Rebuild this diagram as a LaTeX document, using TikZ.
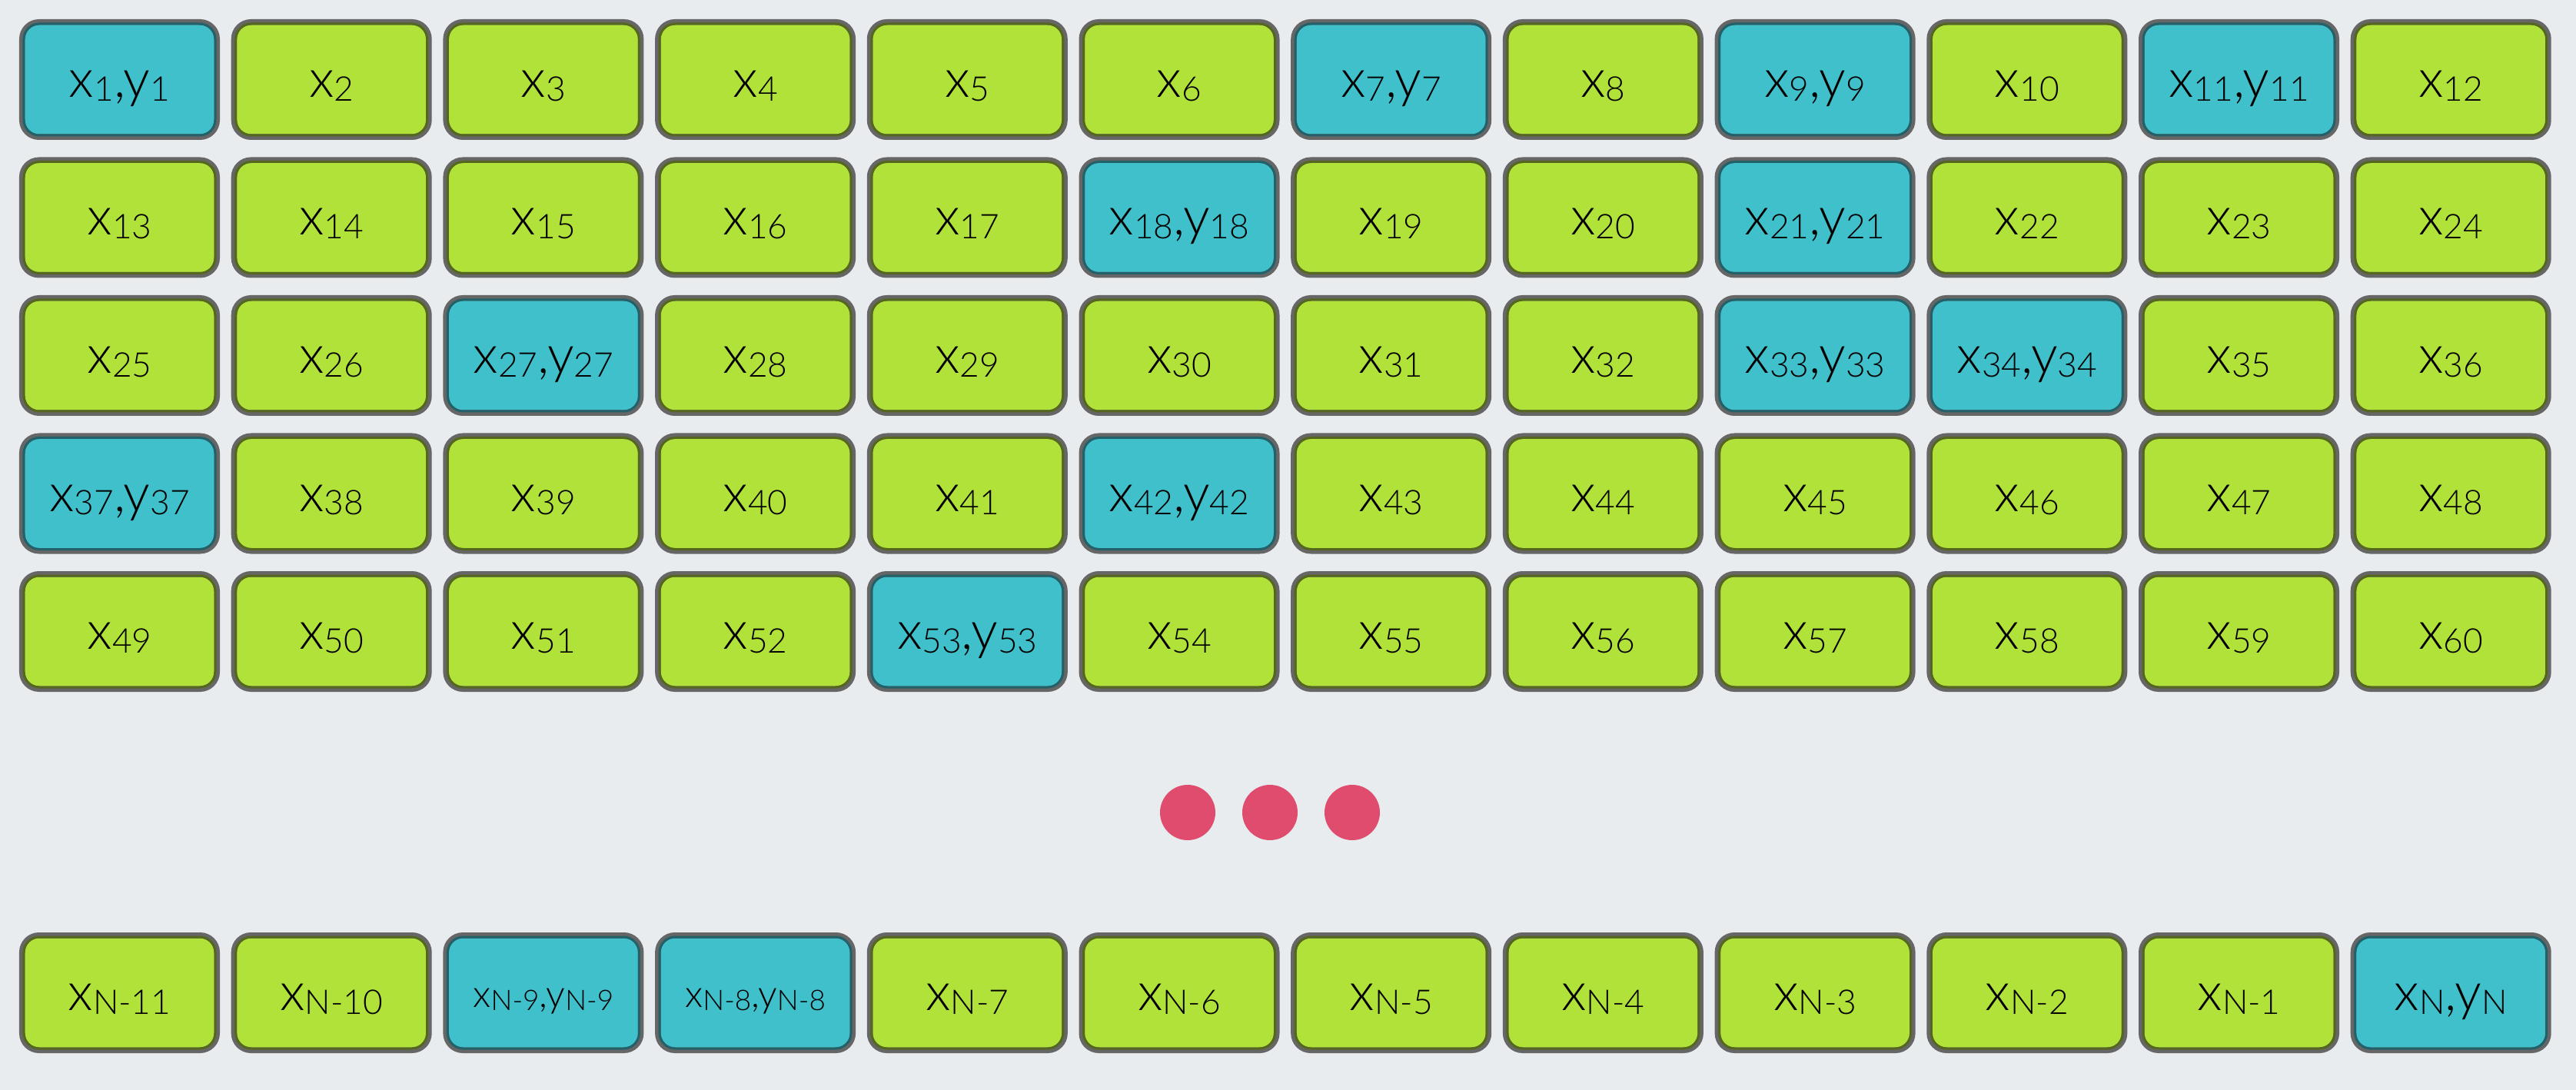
\documentclass[tikz,border=0pt]{standalone}
\usepackage{fontspec}
\setmainfont{Lato Light}
\definecolor{bgc}{HTML}{E8ECEF}
\definecolor{boxgreen}{HTML}{B0E23A}
\definecolor{boxcyan}{HTML}{40C0CB}
\definecolor{darkgreen}{HTML}{55661F}
\definecolor{darkcyan}{HTML}{22606A}
\definecolor{dotred}{HTML}{DF4C6E}
\definecolor{rim}{HTML}{666666}
\newcommand{\subx}[1]{\raisebox{-0.05cm}{\fontsize{12.6}{14}\selectfont #1}}
\newcommand{\labG}[1]{x\subx{#1}}
\newcommand{\labC}[1]{x\subx{#1},y\subx{#1}}
\newcommand{\subs}[1]{\raisebox{-0.04cm}{\fontsize{10.5}{12}\selectfont #1}}
\newcommand{\labS}[1]{{\fontsize{14}{16}\selectfont x\subs{#1},y\subs{#1}}}
\tikzset{
  cellbase/.style={rectangle, rounded corners=0.22cm, line width=0.075cm, draw=rim,
    minimum width=2.535cm, minimum height=1.495cm, inner sep=0pt,
    text height=0.5cm, text depth=0.04cm, align=center,
    font=\fontsize{19.7}{22}\selectfont, text=black},
  cellG/.style={cellbase, fill=boxgreen},
  cellC/.style={cellbase, fill=boxcyan},
  cellS/.style={cellbase, fill=boxcyan, text height=0.42cm},
  innerbase/.style={rectangle, rounded corners=0.2cm, line width=0.03cm,
    minimum width=2.49cm, minimum height=1.45cm, inner sep=0pt},
  innerG/.style={innerbase, draw=darkgreen},
  innerC/.style={innerbase, draw=darkcyan},
  innerS/.style={innerbase, draw=darkcyan},
  dotnode/.style={circle, fill=dotred, draw=none, minimum size=0.72cm, inner sep=0pt}
}
\newcommand{\cellat}[5]{% name, type, x, y, label
  \node[cell#2] (#1) at (#3,#4) {#5};
  \node[inner#2] (#1i) at (#3,#4) {};}
\begin{document}
\begin{tikzpicture}
\fill[bgc] (0,0) rectangle (33.51,-14.18);
\useasboundingbox (0,0) rectangle (33.51,-14.18);
% row 1
\foreach \n/\t [count=\c from 0] in {1/C,2/G,3/G,4/G,5/G,6/G,7/C,8/G,9/C,10/G,11/C,12/G}
  {\cellat{n\n}{\t}{{1.555+2.757*\c}}{-1.035}{\csname lab\t\endcsname{\n}}}
% row 2
\foreach \n/\t [count=\c from 0] in {13/G,14/G,15/G,16/G,17/G,18/C,19/G,20/G,21/C,22/G,23/G,24/G}
  {\cellat{n\n}{\t}{{1.555+2.757*\c}}{-2.83}{\csname lab\t\endcsname{\n}}}
% row 3
\foreach \n/\t [count=\c from 0] in {25/G,26/G,27/C,28/G,29/G,30/G,31/G,32/G,33/C,34/C,35/G,36/G}
  {\cellat{n\n}{\t}{{1.555+2.757*\c}}{-4.625}{\csname lab\t\endcsname{\n}}}
% row 4
\foreach \n/\t [count=\c from 0] in {37/C,38/G,39/G,40/G,41/G,42/C,43/G,44/G,45/G,46/G,47/G,48/G}
  {\cellat{n\n}{\t}{{1.555+2.757*\c}}{-6.42}{\csname lab\t\endcsname{\n}}}
% row 5
\foreach \n/\t [count=\c from 0] in {49/G,50/G,51/G,52/G,53/C,54/G,55/G,56/G,57/G,58/G,59/G,60/G}
  {\cellat{n\n}{\t}{{1.555+2.757*\c}}{-8.215}{\csname lab\t\endcsname{\n}}}
% dots
\node[dotnode] (d1) at (15.45,-10.57) {};
\node[dotnode] (d2) at (16.52,-10.57) {};
\node[dotnode] (d3) at (17.59,-10.57) {};
% bottom row
\foreach \n/\t [count=\c from 0] in {N-11/G,N-10/G,N-9/S,N-8/S,N-7/G,N-6/G,N-5/G,N-4/G,N-3/G,N-2/G,N-1/G,N/C}
  {\cellat{b\c}{\t}{{1.555+2.757*\c}}{-12.915}{\csname lab\t\endcsname{\n}}}
\end{tikzpicture}
\end{document}
